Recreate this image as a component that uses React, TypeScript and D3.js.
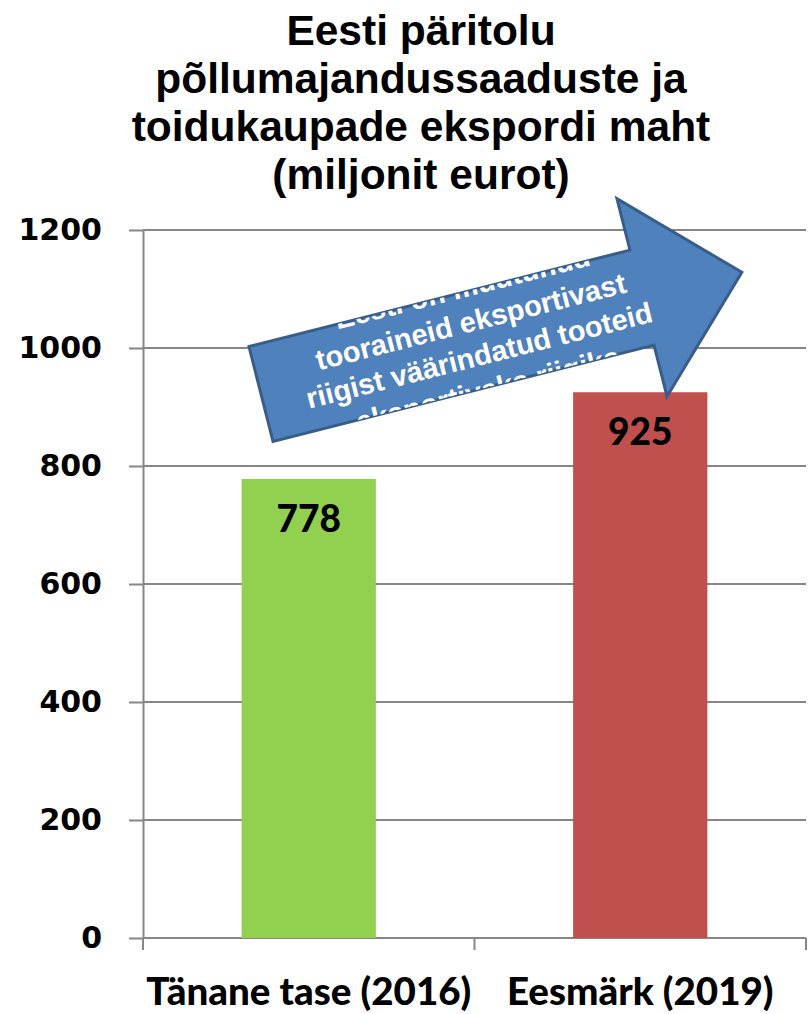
import React, { useEffect, useRef } from "react";
import * as d3 from "d3";

const categories = ["Tänane tase (2016)", "Eesmärk (2019)"];
const values = [778, 925];
const barColors = ["#92D050", "#C0504D"];
const yTicks = [0, 200, 400, 600, 800, 1000, 1200];
const titleLines = [
  "Eesti päritolu",
  "põllumajandussaaduste ja",
  "toidukaupade ekspordi maht",
  "(miljonit eurot)",
];
const arrowLines = [
  "Eesti on muutunud",
  "tooraineid eksportivast",
  "riigist väärindatud tooteid",
  "eksportivaks riigiks",
];

export default function App() {
  const ref = useRef<SVGSVGElement>(null);

  useEffect(() => {
    const width = 812;
    const height = 1014;
    const margin = { top: 230, right: 6, bottom: 76, left: 143 };
    const svg = d3.select(ref.current).attr("width", width).attr("height", height);
    svg.selectAll("*").remove();

    const x = d3
      .scaleBand()
      .domain(categories)
      .range([margin.left, width - margin.right])
      .padding(0);
    const y = d3
      .scaleLinear()
      .domain([0, 1200])
      .range([height - margin.bottom, margin.top]);
    const barW = x.bandwidth() * 0.405;
    const grey = "#868686";

    // title
    svg
      .append("g")
      .selectAll("text")
      .data(titleLines)
      .join("text")
      .attr("x", 421)
      .attr("y", (d, i) => 45 + i * 48)
      .attr("text-anchor", "middle")
      .attr("font-family", "Liberation Sans, Arial, sans-serif")
      .attr("font-weight", "bold")
      .attr("font-size", 42.5)
      .attr("fill", "#000")
      .text((d) => d);

    // grid
    svg
      .append("g")
      .selectAll("line")
      .data(yTicks.filter((d) => d > 0))
      .join("line")
      .attr("x1", margin.left)
      .attr("x2", width - margin.right)
      .attr("y1", (d) => y(d))
      .attr("y2", (d) => y(d))
      .attr("stroke", grey)
      .attr("stroke-width", 2);

    // y axis
    const yAxis = svg
      .append("g")
      .attr("transform", `translate(${margin.left},0)`)
      .call(
        d3
          .axisLeft(y)
          .tickValues(yTicks)
          .tickFormat(d3.format("d"))
          .tickSize(14)
          .tickPadding(27)
          .tickSizeOuter(0)
      );
    yAxis.selectAll("path, line").attr("stroke", grey).attr("stroke-width", 2);
    yAxis
      .selectAll("text")
      .attr("font-family", "DejaVu Sans, Verdana, sans-serif")
      .attr("font-weight", "bold")
      .attr("font-size", 30)
      .attr("fill", "#000");

    // x axis
    const edges = [...categories.map((c) => x(c) as number), (x(categories[1]) as number) + x.bandwidth()];
    svg
      .append("line")
      .attr("x1", margin.left)
      .attr("x2", width - margin.right)
      .attr("y1", y(0))
      .attr("y2", y(0))
      .attr("stroke", grey)
      .attr("stroke-width", 2);
    svg
      .append("g")
      .selectAll("line")
      .data(edges)
      .join("line")
      .attr("x1", (d) => d)
      .attr("x2", (d) => d)
      .attr("y1", y(0))
      .attr("y2", y(0) + 12)
      .attr("stroke", grey)
      .attr("stroke-width", 2);

    // bars
    svg
      .append("g")
      .selectAll("rect")
      .data(values)
      .join("rect")
      .attr("x", (d, i) => (x(categories[i]) as number) + (x.bandwidth() - barW) / 2)
      .attr("y", (d) => y(d))
      .attr("width", barW)
      .attr("height", (d) => y(0) - y(d))
      .attr("fill", (d, i) => barColors[i]);

    // value labels
    svg
      .append("g")
      .selectAll("text")
      .data(values)
      .join("text")
      .attr("x", (d, i) => (x(categories[i]) as number) + x.bandwidth() / 2)
      .attr("y", (d) => y(d) + 53)
      .attr("text-anchor", "middle")
      .attr("font-family", "Lato, sans-serif")
      .attr("font-weight", 900)
      .attr("font-size", 37)
      .attr("fill", "#000")
      .text((d) => d);

    // category labels
    svg
      .append("g")
      .selectAll("text")
      .data(categories)
      .join("text")
      .attr("x", (d) => (x(d) as number) + x.bandwidth() / 2)
      .attr("y", 1005)
      .attr("text-anchor", "middle")
      .attr("font-family", "Lato, sans-serif")
      .attr("font-weight", 900)
      .attr("font-size", 38.5)
      .attr("fill", "#000")
      .text((d) => d);

    // arrow annotation
    const shaft = 393, half = 49, headHalf = 102, len = 496;
    const pts: [number, number][] = [
      [0, -half], [shaft, -half], [shaft, -headHalf], [len, 0],
      [shaft, headHalf], [shaft, half], [0, half],
    ];
    const arrow = svg.append("g").attr("transform", "translate(261,394) rotate(-14.2)");
    arrow
      .append("clipPath")
      .attr("id", "arrow-clip")
      .append("polygon")
      .attr("points", pts.map((p) => p.join(",")).join(" "));
    arrow
      .append("polygon")
      .attr("points", pts.map((p) => p.join(",")).join(" "))
      .attr("fill", "#4F81BD")
      .attr("stroke", "#385D8A")
      .attr("stroke-width", 3)
      .attr("stroke-linejoin", "miter");
    arrow
      .append("g")
      .attr("clip-path", "url(#arrow-clip)")
      .selectAll("text")
      .data(arrowLines)
      .join("text")
      .attr("x", 221)
      .attr("y", (d, i) => -43.8 + i * 35)
      .attr("text-anchor", "middle")
      .attr("font-family", "Liberation Sans, Arial, sans-serif")
      .attr("font-weight", "bold")
      .attr("font-size", 29)
      .attr("fill", "#fff")
      .text((d) => d);
  }, []);

  return <svg ref={ref} style={{ position: "absolute", left: 0, top: 0, background: "#fff" }} />;
}
